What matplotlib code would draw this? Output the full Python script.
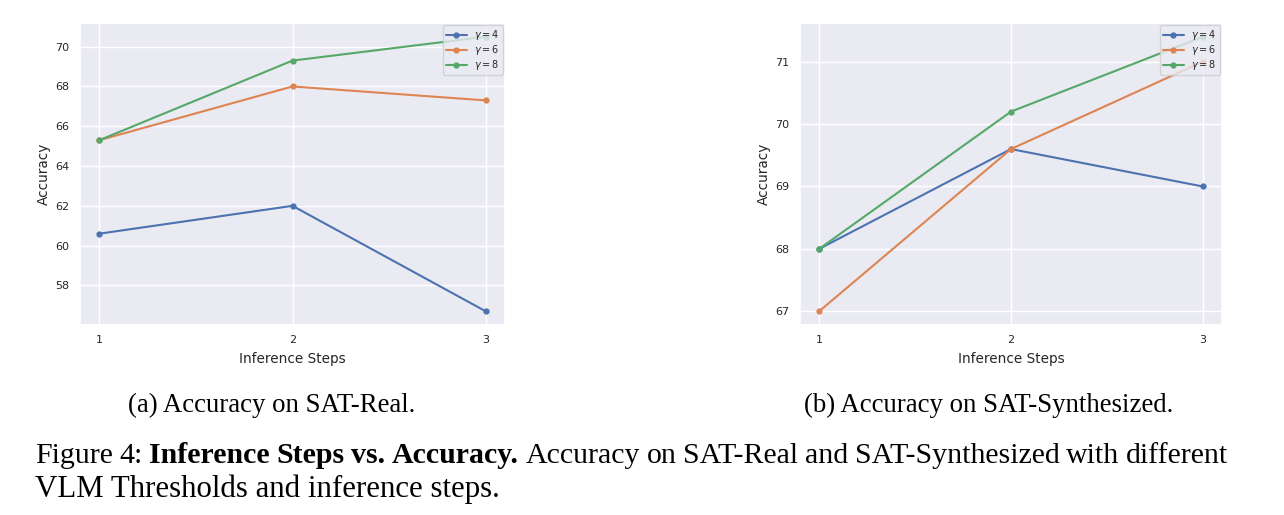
import matplotlib
matplotlib.use("Agg")
import matplotlib.pyplot as plt
import seaborn as sns

steps = [1, 2, 3]
labels = [r"$\gamma = 4$", r"$\gamma = 6$", r"$\gamma = 8$"]

real_g4 = [60.6, 62.0, 56.7]
real_g6 = [65.3, 68.0, 67.3]
real_g8 = [65.3, 69.3, 70.5]

syn_g4 = [68.0, 69.6, 69.0]
syn_g6 = [67.0, 69.6, 71.0]
syn_g8 = [68.0, 70.2, 71.4]

sns.set_theme(style="darkgrid")
colors = sns.color_palette("deep")

fig = plt.figure(figsize=(12.84, 5.15), dpi=100)
W, H = 1284, 515

def add_ax(x0, x1, y0, y1):
    return fig.add_axes([x0 / W, 1 - y1 / H, (x1 - x0) / W, (y1 - y0) / H])

ax1 = add_ax(80, 505, 23, 325)
ax2 = add_ax(800, 1222, 23, 325)

for ax, series, yticks in [
    (ax1, [real_g4, real_g6, real_g8], [58, 60, 62, 64, 66, 68, 70]),
    (ax2, [syn_g4, syn_g6, syn_g8], [67, 68, 69, 70, 71]),
]:
    for s, lab, c in zip(series, labels, colors):
        ax.plot(steps, s, marker="o", markersize=3.5, lw=1.5, color=c, label=lab)
    ax.set_xticks(steps)
    ax.set_yticks(yticks)
    ax.tick_params(labelsize=8, pad=1.5)
    ax.set_xlabel("Inference Steps", fontsize=9.8, labelpad=4.5)
    ax.set_ylabel("Accuracy", fontsize=9.8, labelpad=3)
    ax.legend(loc="upper right", fontsize=7, handlelength=2.1, borderpad=0.3,
              labelspacing=0.1, borderaxespad=0.25, handletextpad=0.8, framealpha=0.8)

serif = "Liberation Serif"
fig.text(272 / W, 1 - 405 / H, "(a) Accuracy on SAT-Real.", ha="center", va="center",
         fontsize=19.3, family=serif, color="black")
fig.text(989 / W, 1 - 405 / H, "(b) Accuracy on SAT-Synthesized.", ha="center", va="center",
         fontsize=19.3, family=serif, color="black")

# Justified first caption line
cap_fs1 = 21.5
cap_fs2 = 22.2
y1 = 1 - 463 / H
words = [("Figure", "normal"), ("4:", "normal"), ("Inference", "bold"), ("Steps", "bold"),
         ("vs.", "bold"), ("Accuracy.", "bold"), ("Accuracy", "normal"), ("on", "normal"),
         ("SAT-Real", "normal"), ("and", "normal"), ("SAT-Synthesized", "normal"),
         ("with", "normal"), ("different", "normal")]
fig.canvas.draw()
r = fig.canvas.get_renderer()
arts = []
total = 0
for w, wt in words:
    t = fig.text(0, y1, w, ha="left", va="baseline", fontsize=cap_fs1, family=serif,
                 weight=wt, color="black")
    bb = t.get_window_extent(r)
    arts.append((t, bb.width))
    total += bb.width
x_start, x_end = 35, 1228
gap = (x_end - x_start - total) / (len(words) - 1)
x = x_start
for t, w in arts:
    t.set_x(x / W)
    x += w + gap

fig.text(35 / W, 1 - 497 / H, "VLM Thresholds and inference steps.", ha="left", va="baseline",
         fontsize=cap_fs2, family=serif, color="black")

fig.savefig("out.png", dpi=100)
